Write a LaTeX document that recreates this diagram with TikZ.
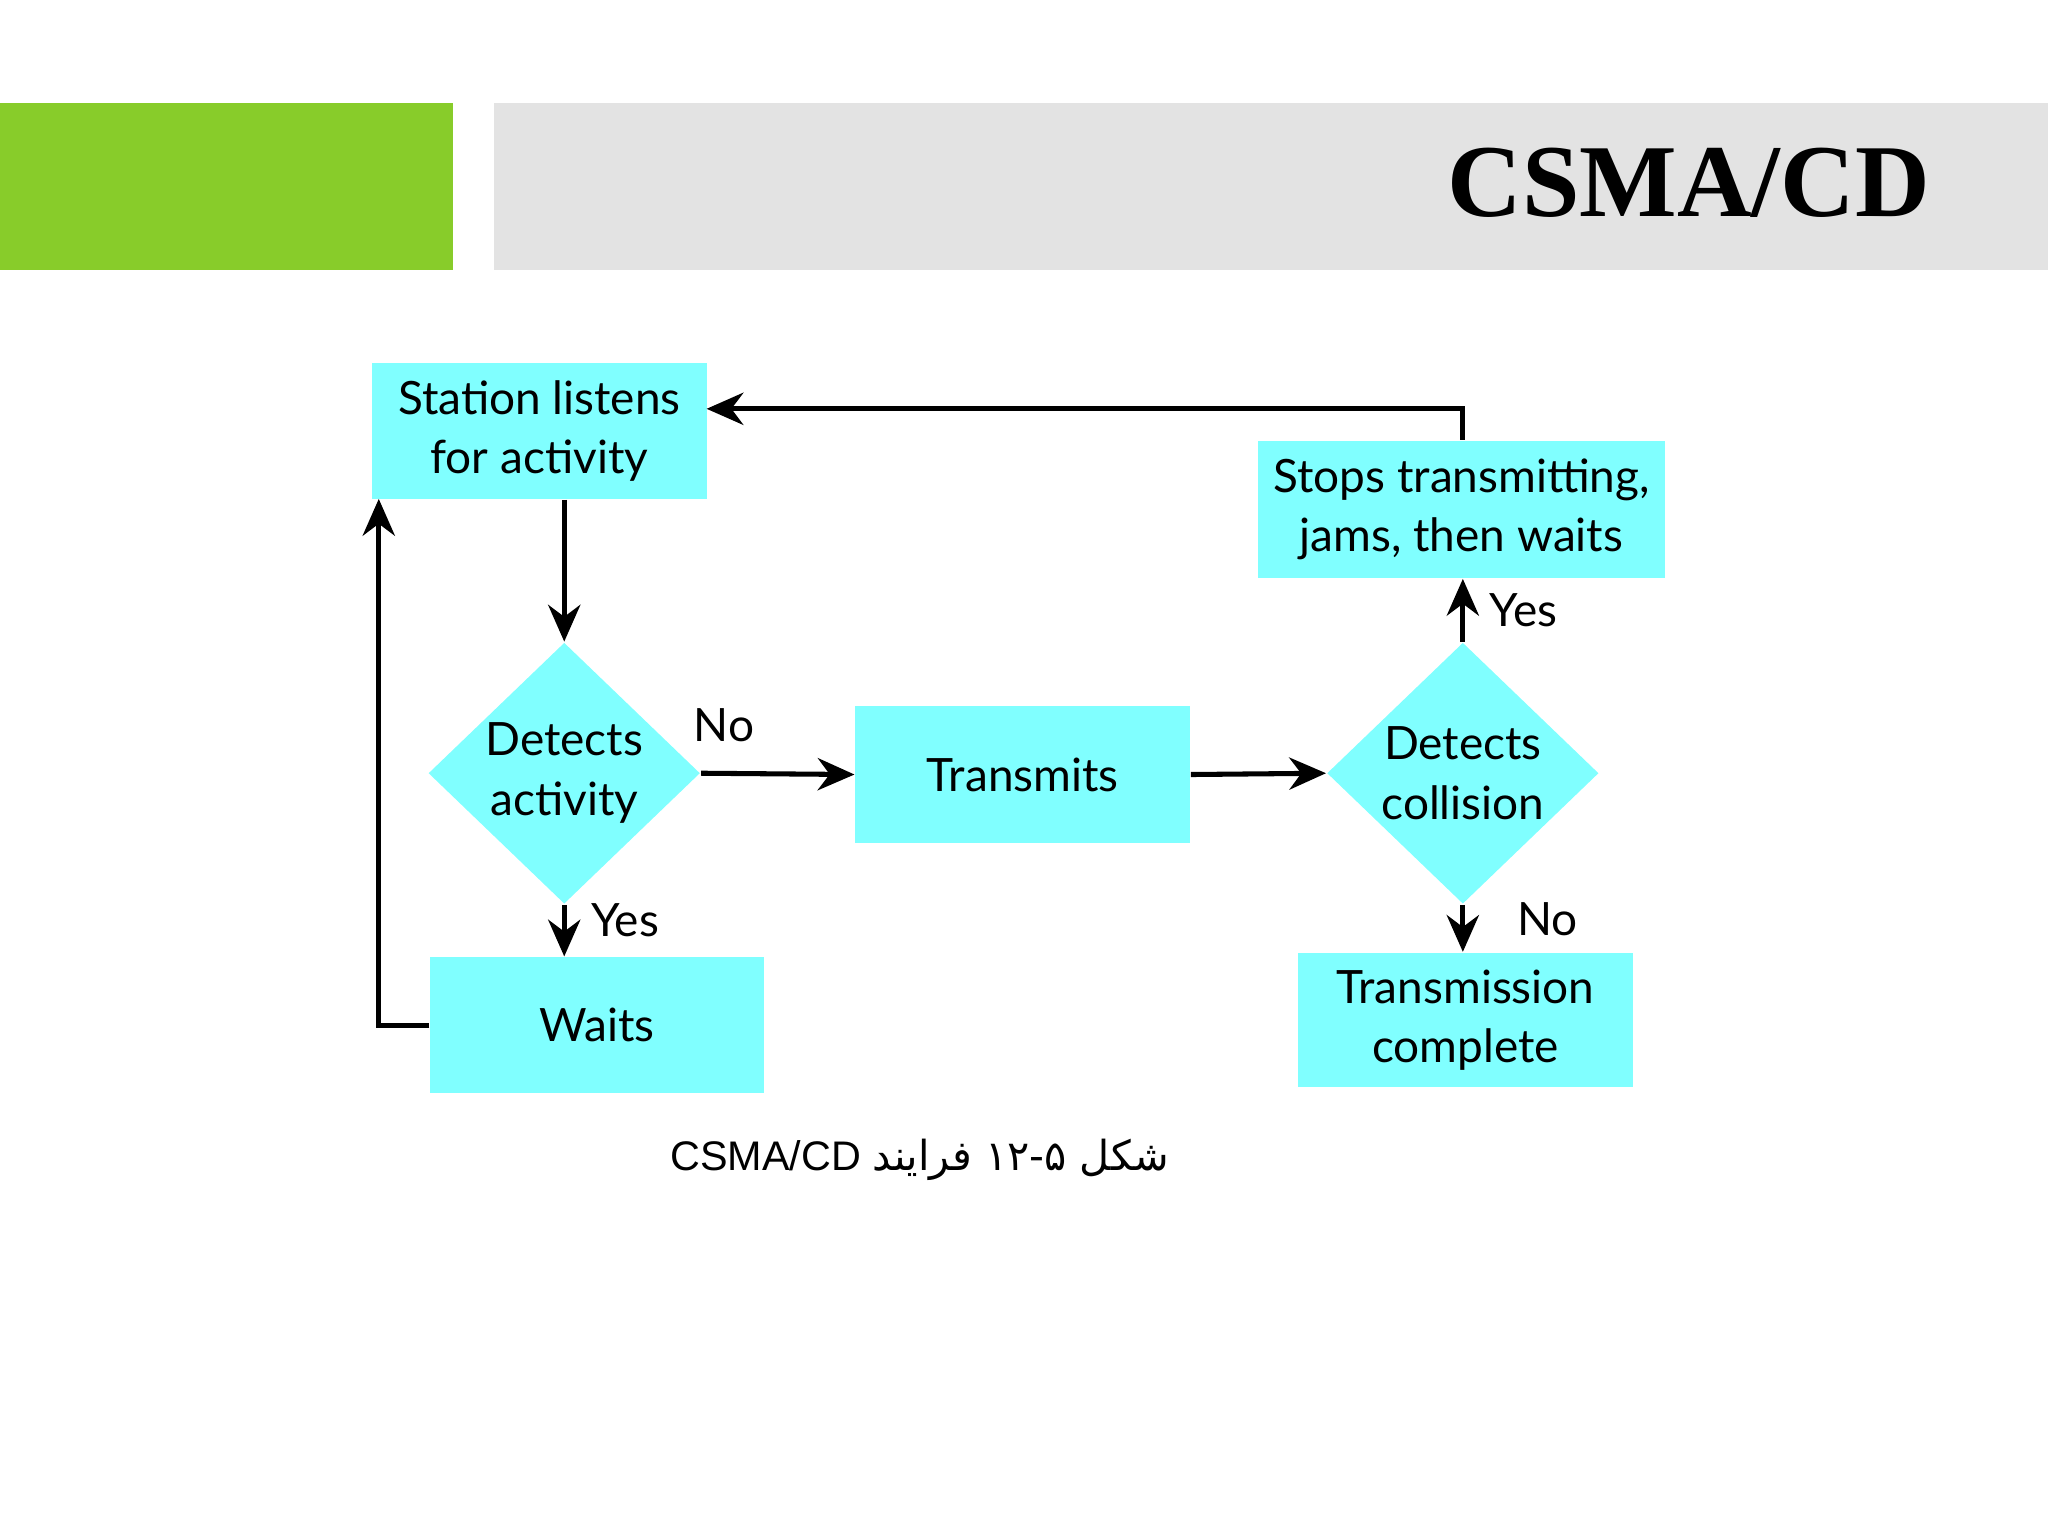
\documentclass[tikz,border=0pt]{standalone}
\usepackage{fontspec}
\usetikzlibrary{shapes.geometric,arrows.meta}
\TeXXeTstate=1
\newfontfamily\boxfont{Lato}
\newfontfamily\titlefont{Liberation Serif}
\newfontfamily\capfont{Liberation Sans}
\newfontfamily\arabicfont[Script=Arabic]{DejaVu Sans}
\definecolor{cy}{HTML}{80FFFF}
\definecolor{gr}{HTML}{88CC2A}
\definecolor{gy}{HTML}{E3E3E3}
\tikzset{
 boxn/.style={fill=cy,inner sep=0,align=center,font=\boxfont\fontsize{10}{13}\selectfont},
 dia/.style={diamond,fill=cy,inner sep=0,minimum width=2.08cm,minimum height=2cm},
 txt/.style={align=center,font=\boxfont\fontsize{10}{13}\selectfont},
 arr/.style={line width=1.1pt,-{Stealth[length=8pt,width=7pt]}},
 lab/.style={font=\boxfont\fontsize{10}{12}\selectfont}
}
\begin{document}
\begin{tikzpicture}[x=0.01cm,y=-0.01cm]
\useasboundingbox[fill=white] (0,0) rectangle (1568,1176);
\fill[gr] (0,79) rectangle (347,207);
\fill[gy] (378,79) rectangle (1568,207);
\node[anchor=east,font=\titlefont\bfseries\fontsize{22.5}{26}\selectfont] (title) at (1490,140) {CSMA/CD};
\node[boxn,minimum width=2.56cm,minimum height=1.04cm] (s) at (413,330) {Station listens\\for activity};
\node[dia] (d1) at (432,592) {};
\node[txt] at (d1) {Detects\\activity};
\node[boxn,minimum width=2.56cm,minimum height=1.05cm] (t) at (783,593) {Transmits};
\node[dia] (d2) at (1120,592) {};
\node[txt] at (d2) {Detects\\collision};
\node[boxn,minimum width=3.12cm,minimum height=1.05cm] (st) at (1119,390) {Stops transmitting,\\jams, then waits};
\node[boxn,minimum width=2.55cm,minimum height=1.04cm] (w) at (457,785) {Waits};
\node[boxn,minimum width=2.56cm,minimum height=1.03cm] (tc) at (1122,781) {Transmission\\complete};
\draw[arr] (s.south -| d1.north) -- (d1.north);
\draw[arr] (d1.east) -- (t.west) node[lab,pos=0.15,above=3pt] {No};
\draw[arr] (t.east) -- (d2.west);
\draw[arr] (d1.south) -- (w.north -| d1.south) node[lab,right=2pt,pos=0.3] {Yes};
\draw[arr] (w.west) -- (290,785) -- (290,382);
\draw[arr] (d2.north) -- (st.south -| d2.north) node[lab,right=2pt,pos=0.5] {Yes};
\draw[arr] (d2.south) -- (tc.north -| d2.south) node[lab,right=8pt,pos=0.3] {No};
\draw[arr] (st.north -| d2.north) -- (1120,313) -- (541,313);
\node[font=\capfont\fontsize{9}{11}\selectfont] (cap) at (704,888) {CSMA/CD {\arabicfont\beginR فرایند\endR{} \beginL ۱۲-۵\endL{} \beginR شکل\endR}};
\end{tikzpicture}
\end{document}
